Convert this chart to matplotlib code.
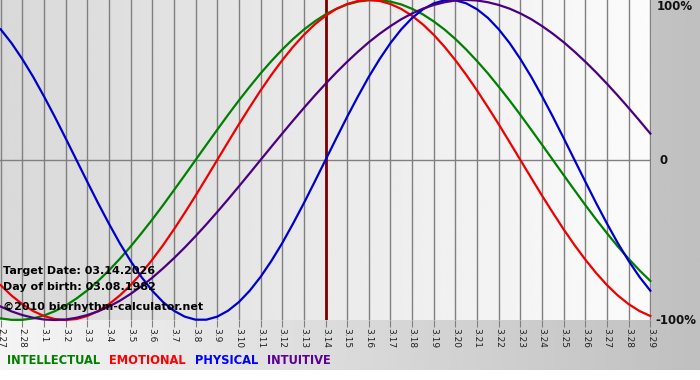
import matplotlib
matplotlib.use('Agg')
import matplotlib.pyplot as plt
import numpy as np

# day labels from 2.27 to 3.29
days = ['2.27', '2.28'] + ['3.%d' % d for d in range(1, 30)]
target_idx = 15  # 3.14

# biorhythm values, every half day (-1 .. 1)
intellectual = [-0.990, -0.999, -0.999, -0.990, -0.972, -0.945, -0.910, -0.866, -0.815, -0.756,
                -0.690, -0.618, -0.541, -0.458, -0.372, -0.282, -0.189, -0.095, 0.0, 0.095,
                0.189, 0.282, 0.372, 0.458, 0.541, 0.618, 0.690, 0.756, 0.815, 0.866,
                0.910, 0.945, 0.972, 0.990, 0.999, 0.999, 0.990, 0.972, 0.945, 0.910,
                0.866, 0.815, 0.756, 0.690, 0.618, 0.541, 0.458, 0.372, 0.282, 0.189,
                0.095, 0.0, -0.095, -0.189, -0.282, -0.372, -0.458, -0.541, -0.618, -0.690,
                -0.756]
emotional = [-0.782, -0.847, -0.901, -0.944, -0.975, -0.994, -1.0, -0.994, -0.975, -0.944,
             -0.901, -0.847, -0.782, -0.707, -0.623, -0.532, -0.434, -0.330, -0.223, -0.112,
             0.0, 0.112, 0.223, 0.330, 0.434, 0.532, 0.623, 0.707, 0.782, 0.847,
             0.901, 0.944, 0.975, 0.994, 1.0, 0.994, 0.975, 0.944, 0.901, 0.847,
             0.782, 0.707, 0.623, 0.532, 0.434, 0.330, 0.223, 0.112, 0.0, -0.112,
             -0.223, -0.330, -0.434, -0.532, -0.623, -0.707, -0.782, -0.847, -0.901, -0.944,
             -0.975]
physical = [0.817, 0.731, 0.631, 0.520, 0.398, 0.270, 0.136, 0.0, -0.136, -0.270,
            -0.398, -0.520, -0.631, -0.731, -0.817, -0.888, -0.942, -0.979, -0.998, -0.998,
            -0.979, -0.942, -0.888, -0.817, -0.731, -0.631, -0.520, -0.398, -0.270, -0.136,
            0.0, 0.136, 0.270, 0.398, 0.520, 0.631, 0.731, 0.817, 0.888, 0.942,
            0.979, 0.998, 0.998, 0.979, 0.942, 0.888, 0.817, 0.731, 0.631, 0.520,
            0.398, 0.270, 0.136, 0.0, -0.136, -0.270, -0.398, -0.520, -0.631, -0.731,
            -0.817]
intuitive = [-0.916, -0.946, -0.969, -0.986, -0.997, -1.0, -0.997, -0.986, -0.969, -0.946,
             -0.916, -0.880, -0.837, -0.789, -0.736, -0.677, -0.614, -0.547, -0.476, -0.402,
             -0.325, -0.246, -0.165, -0.083, 0.0, 0.083, 0.165, 0.246, 0.325, 0.402,
             0.476, 0.547, 0.614, 0.677, 0.736, 0.789, 0.837, 0.880, 0.916, 0.946,
             0.969, 0.986, 0.997, 1.0, 0.997, 0.986, 0.969, 0.946, 0.916, 0.880,
             0.837, 0.789, 0.736, 0.677, 0.614, 0.547, 0.476, 0.402, 0.325, 0.246,
             0.165]

series = [('INTELLECTUAL', intellectual, '#008000', '#008000'),
          ('EMOTIONAL', emotional, '#ee0000', '#ff0000'),
          ('PHYSICAL', physical, '#0000cc', '#0000ff'),
          ('INTUITIVE', intuitive, '#4b0082', '#5a0096')]

W, H = 700, 380
fig = plt.figure(figsize=(W / 100, H / 100), dpi=100)
fig.patch.set_facecolor('white')

# grey gradient behind everything (right margin and label band)
bg = fig.add_axes([0, 10 / H, 1, 370 / H])
bg.imshow(np.linspace(0.96, 0.75, 256).reshape(1, -1), cmap='gray', vmin=0, vmax=1,
          aspect='auto', extent=[0, 1, 0, 1])
bg.axis('off')

ax = fig.add_axes([0, 60 / H, 651 / W, 320 / H])
x = np.arange(len(days))
xh = np.arange(len(physical)) / 2.0  # half-day positions
ax.set_xlim(-0.03, 30.03)
ax.set_ylim(-1, 1)

# plot area gradient, darker on the left
ax.imshow(np.linspace(0.85, 0.985, 256).reshape(1, -1), cmap='gray', vmin=0, vmax=1,
          aspect='auto', extent=[-0.03, 30.03, -1, 1], zorder=0)

for xi in x:
    ax.axvline(xi, color='#808080', lw=1, zorder=1)
ax.axhline(0, color='#808080', lw=1, zorder=1)
ax.axvline(target_idx, color='#7a0000', lw=2, zorder=3)

for name, vals, c, _ in series:
    ax.plot(xh, vals, color=c, lw=1.6, zorder=4, clip_on=False)

for s in ax.spines.values():
    s.set_visible(False)
ax.set_xticks(x)
ax.set_xticklabels(days, rotation=-90, fontsize=6.5, color='#222222')
ax.tick_params(axis='x', length=5, color='#808080', pad=1)
ax.set_yticks([])

# y labels on the right
fig.text(657 / W, 1 - 7 / H, '100%', fontsize=8.5, fontweight='bold', color='#111111', va='center')
fig.text(660 / W, 1 - 160 / H, '0', fontsize=8.5, fontweight='bold', color='#111111', va='center')
fig.text(655 / W, 1 - 321 / H, '-100%', fontsize=8.5, fontweight='bold', color='#111111', va='center')

# info texts
fig.text(3 / W, 1 - 271 / H, 'Target Date: 03.14.2026', fontsize=8, fontweight='bold',
         color='black', va='center')
fig.text(3 / W, 1 - 287 / H, 'Day of birth: 03.08.1982', fontsize=8, fontweight='bold',
         color='black', va='center')
fig.text(3 / W, 1 - 307 / H, '\u00a92010 biorhythm-calculator.net', fontsize=8,
         fontweight='bold', color='black', va='center')

# legend line
lx = 7
renderer = fig.canvas.get_renderer()
for name, _, _, tc in series:
    t = fig.text(lx / W, 1 - 361 / H, name, fontsize=8.3, fontweight='bold', color=tc,
                 va='center', ha='left')
    bb = t.get_window_extent(renderer=renderer)
    lx += bb.width + 9

fig.savefig('out.png', dpi=100)
